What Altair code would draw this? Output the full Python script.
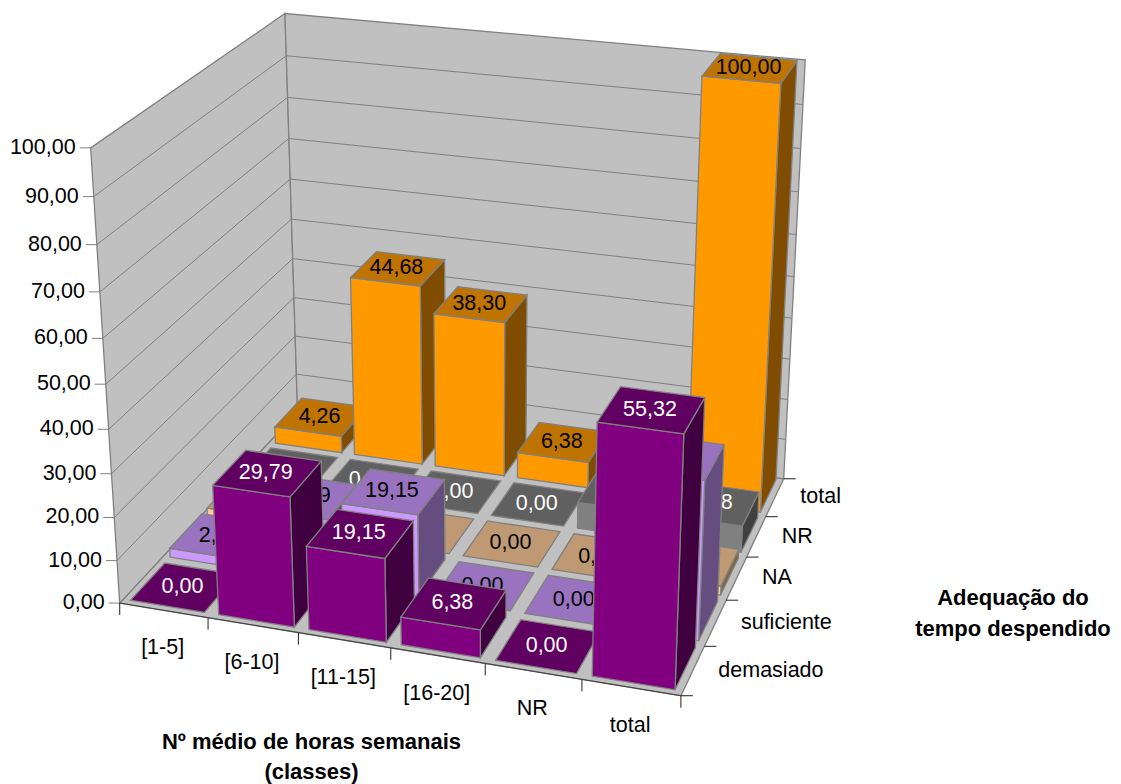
import altair as alt
import numpy as np

# Table of percentages: one row per time-adequacy class, one column per weekly-hours class
hour_classes = ["[1-5]", "[6-10]", "[11-15]", "[16-20]", "NR", "total"]
adequacy_classes = ["demasiado", "suficiente", "NA", "NR", "total"]
demasiado = [0.00, 29.79, 19.15, 6.38, 0.00, 55.32]
suficiente = [2.13, 14.89, 19.15, 0.00, 0.00, 36.17]
na_values = [2.13, 0.00, 0.00, 0.00, 0.00, 2.13]
nr_values = [0.00, 0.00, 0.00, 0.00, 6.38, 6.38]
total_values = [4.26, 44.68, 38.30, 6.38, 6.38, 100.00]
value_ticks = [0, 10, 20, 30, 40, 50, 60, 70, 80, 90, 100]

series_values = [demasiado, suficiente, na_values, nr_values, total_values]
front_colours = ["#800080", "#CC99FF", "#FFCC99", "#808080", "#FF9900"]
top_colours = ["#600060", "#9973BF", "#BF9973", "#606060", "#BF7300"]
side_colours = ["#400040", "#664D80", "#806640", "#404040", "#804D00"]
label_colours = ["white", "black", "black", "white", "black"]

FONT = "Liberation Sans"
EDGE = "#808080"
WALL = "#C0C0C0"

# Camera calibration: (hour class, adequacy class, value) -> canvas position
camera_points = [
    (0, 0, 0, 120, 602), (6, 0, 0, 681, 695.5), (6, 5, 0, 783.5, 477.5), (0, 5, 0, 298, 413),
    (0, 0, 100, 91.5, 148), (0, 5, 100, 285, 14), (6, 5, 100, 805.5, 60),
    (1, 0, 0, 207.7, 617), (2, 0, 0, 299.3, 633), (3, 0, 0, 391.7, 649),
    (4, 0, 0, 485, 663), (5, 0, 0, 581.3, 680),
    (6, 1, 0, 705, 646), (6, 2, 0, 726, 600.3), (6, 3, 0, 745, 558), (6, 4, 0, 766.7, 516.7),
    (0, 5, 50, 291, 218), (0, 0, 50, 104, 384),
]


def fit_camera(points):
    rows = []
    for a, b, c, u, v in points:
        w = c / 20.0
        rows.append([a, b, w, 1, 0, 0, 0, 0, -u * a, -u * b, -u * w, -u])
        rows.append([0, 0, 0, 0, a, b, w, 1, -v * a, -v * b, -v * w, -v])
    _, _, vt = np.linalg.svd(np.array(rows, dtype=float))
    return vt[-1].reshape(3, 4)


CAMERA = fit_camera(camera_points)


def project(a, b, c):
    u, v, w = CAMERA @ np.array([a, b, c / 20.0, 1.0])
    return [float(u / w), float(v / w)]


def polygon(corners, fill):
    ring = [project(*p) for p in corners]
    ring.append(ring[0])
    return {"type": "Feature", "geometry": {"type": "Polygon", "coordinates": [ring]}, "fill": fill}


def segment(start, end, colour):
    return {"type": "Feature", "geometry": {"type": "LineString", "coordinates": [start, end]}, "line": colour}


def shape_layer(features, width=1.3):
    return alt.Chart(alt.Data(values=features)).mark_geoshape(stroke=EDGE, strokeWidth=width).encode(
        fill=alt.Fill("fill:N", scale=None)
    )


def text_layer(rows, colour, size=21.5, align="center", bold=False):
    return alt.Chart(alt.Data(values=rows)).mark_text(
        font=FONT, fontSize=size, align=align, baseline="middle", color=colour,
        fontWeight="bold" if bold else "normal",
    ).encode(longitude="lon:Q", latitude="lat:Q", text="label:N")


layers = []

# Floor and the two walls
nx, nz = len(hour_classes), len(adequacy_classes)
layers.append(shape_layer([
    polygon([(0, 0, 0), (nx, 0, 0), (nx, nz, 0), (0, nz, 0)], WALL),
    polygon([(0, 0, 0), (0, nz, 0), (0, nz, 100), (0, 0, 100)], WALL),
    polygon([(0, nz, 0), (nx, nz, 0), (nx, nz, 100), (0, nz, 100)], WALL),
]))

# Gridlines and ticks
lines = []
for tick in value_ticks[1:-1]:
    lines.append(segment(project(0, 0, tick), project(0, nz, tick), EDGE))
    lines.append(segment(project(0, nz, tick), project(nx, nz, tick), EDGE))
for tick in value_ticks:
    x0, y0 = project(0, 0, tick)
    lines.append(segment([x0 - 11, y0], [x0, y0], EDGE))
for i in range(nx + 1):
    x0, y0 = project(i, 0, 0)
    lines.append(segment([x0, y0], [x0, y0 + 12], "#202020"))
for k in range(nz + 1):
    x0, y0 = project(nx, k, 0)
    lines.append(segment([x0, y0], [x0 + 12, y0], "#202020"))
lines.append(segment(project(0, 0, 0), project(nx, 0, 0), "#404040"))
layers.append(
    alt.Chart(alt.Data(values=lines)).mark_geoshape(filled=False, strokeWidth=1).encode(
        stroke=alt.Stroke("line:N", scale=None)
    )
)

# Bars from the far row to the near one, left to right, each with its value on top
BAR_LEFT, BAR_RIGHT = 0.08, 0.92
BAR_NEAR, BAR_FAR = 0.09, 0.95
for k in reversed(range(nz)):
    for i in range(nx):
        value = series_values[k][i]
        xa, xb = i + BAR_LEFT, i + BAR_RIGHT
        za, zb = k + BAR_NEAR, k + BAR_FAR
        faces = []
        if value > 0:
            faces.append(polygon([(xb, za, 0), (xb, zb, 0), (xb, zb, value), (xb, za, value)], side_colours[k]))
            faces.append(polygon([(xa, za, 0), (xb, za, 0), (xb, za, value), (xa, za, value)], front_colours[k]))
        faces.append(polygon([(xa, za, value), (xb, za, value), (xb, zb, value), (xa, zb, value)], top_colours[k]))
        layers.append(shape_layer(faces))
        cx, cy = project(i + 0.5, k + 0.5, value)
        layers.append(text_layer(
            [{"lon": cx - 1, "lat": cy - 1, "label": f"{value:.2f}".replace(".", ",")}], label_colours[k]
        ))

# Axis labels
value_rows = []
for tick in value_ticks:
    x0, y0 = project(0, 0, tick)
    value_rows.append({"lon": x0 - 15, "lat": y0, "label": f"{tick:.2f}".replace(".", ",")})
layers.append(text_layer(value_rows, "black", align="right"))

hour_rows = []
for i, name in enumerate(hour_classes):
    x0, y0 = project(i + 0.5, 0, 0)
    hour_rows.append({"lon": x0 - 1, "lat": y0 + 38, "label": name})
layers.append(text_layer(hour_rows, "black"))

adequacy_rows = []
for k, name in enumerate(adequacy_classes):
    x0, y0 = project(nx, k + 0.5, 0)
    adequacy_rows.append({"lon": x0 + 25.5, "lat": y0, "label": name})
layers.append(text_layer(adequacy_rows, "black", align="left"))

# Axis titles
layers.append(text_layer([
    {"lon": 311.5, "lat": 742, "label": "Nº médio de horas semanais"},
    {"lon": 311.5, "lat": 772, "label": "(classes)"},
    {"lon": 1013, "lat": 598, "label": "Adequação do"},
    {"lon": 1013, "lat": 629, "label": "tempo despendido"},
], "black", size=22, bold=True))

chart = (
    alt.layer(*layers)
    .project(type="identity", scale=1, translate=[0, 0])
    .properties(width=1121, height=784, padding=0, autosize=alt.AutoSizeParams(type="none"), background="white")
    .configure_view(stroke=None)
)

chart.save("out.html", embed_options={"renderer": "svg", "actions": False})
